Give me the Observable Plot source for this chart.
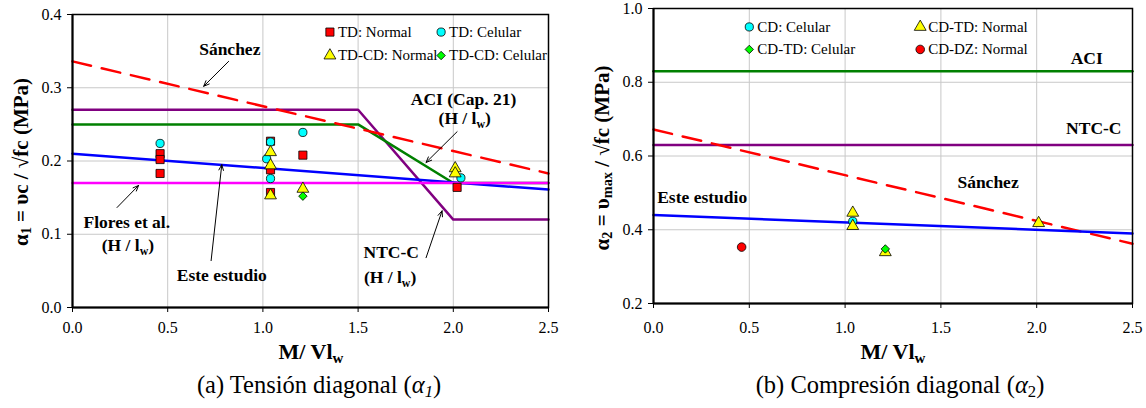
<!DOCTYPE html>
<html>
<head>
<meta charset="utf-8">
<script src="https://cdn.jsdelivr.net/npm/d3@7"></script>
<script src="https://cdn.jsdelivr.net/npm/@observablehq/plot@0.6"></script>
<style>
  body { margin: 0; background: #fff; }
  #wrap { position: relative; width: 1146px; height: 408px; font-family: 'Liberation Serif', 'DejaVu Serif', serif; color: #000; overflow: hidden; }
  #wrap svg, #wrap svg text { font-family: 'Liberation Serif', 'DejaVu Serif', serif !important; }
  .panel { position: absolute; top: 0; }
  .lbl { position: absolute; white-space: nowrap; transform: translate(-50%, -50%); line-height: 1; }
  .rot { transform: translate(-50%, -50%) rotate(-90deg); }
  .axt { font-weight: bold; font-size: 22px; }
  .yt { font-weight: bold; font-size: 21px; }
  .cap { font-size: 24.5px; }
  sub { font-size: 0.68em; vertical-align: -0.28em; line-height: 0; }
</style>
</head>
<body>
<div id="wrap">
  <div id="pa" class="panel" style="left:0px"></div>
  <div id="pb" class="panel" style="left:573px"></div>
  <div class="lbl rot yt" style="left:21px;top:162px">α<sub>1</sub> = υc / √fc (MPa)</div>
  <div class="lbl rot yt" style="left:602px;top:158px">α<sub>2</sub> = υ<sub>max</sub> / √fc (MPa)</div>
  <div class="lbl axt" style="left:311px;top:352px">M/ Vl<sub>w</sub></div>
  <div class="lbl axt" style="left:893px;top:352px">M/ Vl<sub>w</sub></div>
  <div class="lbl cap" style="left:319px;top:385px">(a) Tensión diagonal (<i>α<sub>1</sub></i>)</div>
  <div class="lbl cap" style="left:900px;top:385px">(b) Compresión diagonal (<i>α</i><sub>2</sub>)</div>
</div>
<script>
// ---------- shared ticks ----------
const xTicks = [0, 0.5, 1.0, 1.5, 2.0, 2.5];
const yTicksA = [0, 0.1, 0.2, 0.3, 0.4];
const yTicksB = [0.2, 0.4, 0.6, 0.8, 1.0];

// ---------- panel (a): design curves ----------
const sanchezA_x = [0, 2.5];           const sanchezA_y = [0.336, 0.183];
const ntcA_x = [0, 1.5, 2.0, 2.5];     const ntcA_y = [0.27, 0.27, 0.12, 0.12];
const aciA_x = [0, 1.5, 2.0, 2.5];     const aciA_y = [0.25, 0.25, 0.17, 0.17];
const esteA_x = [0, 2.5];              const esteA_y = [0.21, 0.161];
const floresA_x = [0, 2.5];            const floresA_y = [0.17, 0.17];

// ---------- panel (a): test data ----------
const tdNormalX   = [0.46, 0.46, 0.46, 1.04, 1.04, 1.04, 1.21, 2.02];
const tdNormalY   = [0.210, 0.202, 0.183, 0.227, 0.188, 0.157, 0.208, 0.164];
const tdCelularX  = [0.46, 1.02, 1.04, 1.04, 1.21, 2.04];
const tdCelularY  = [0.224, 0.203, 0.226, 0.176, 0.239, 0.177];
const tdcdNormalX = [1.04, 1.04, 1.04, 1.21, 2.01, 2.01];
const tdcdNormalY = [0.212, 0.194, 0.153, 0.162, 0.190, 0.183];
const tdcdCelularX = [1.21];
const tdcdCelularY = [0.152];

// ---------- panel (b): design curves ----------
const aciB_x = [0, 2.5];     const aciB_y = [0.83, 0.83];
const ntcB_x = [0, 2.5];     const ntcB_y = [0.63, 0.63];
const sanchezB_x = [0, 2.5]; const sanchezB_y = [0.672, 0.362];
const esteB_x = [0, 2.5];    const esteB_y = [0.44, 0.39];

// ---------- panel (b): test data ----------
const cdCelularX   = [1.04];
const cdCelularY   = [0.423];
const cdtdNormalX  = [1.04, 1.04, 1.21, 2.01];
const cdtdNormalY  = [0.446, 0.410, 0.339, 0.418];
const cdtdCelularX = [1.21];
const cdtdCelularY = [0.348];
const cddzNormalX  = [0.46];
const cddzNormalY  = [0.353];

// ---------- labels ----------
const legendNamesA = ["TD: Normal", "TD: Celular", "TD-CD: Normal", "TD-CD: Celular"];
const legendNamesB = ["CD: Celular", "CD-TD: Normal", "CD-TD: Celular", "CD-DZ: Normal"];

const zip = (xs, ys) => xs.map((x, i) => ({x, y: ys[i]}));
const fmt = d3.format(".1f");
const style = {fontFamily: "'Liberation Serif', 'DejaVu Serif', serif", fontSize: "16px", background: "white", overflow: "visible", color: "black"};

function seriesMarks(list) {
  return list.map(s => Plot.dot(zip(s.xs, s.ys), {x: "x", y: "y", symbol: s.symbol, fill: s.fill, stroke: "black", strokeWidth: 0.8, r: s.r}));
}
function legendMarks(list, pos) {
  const out = [];
  list.forEach((s, i) => {
    const p = [pos[i]];
    out.push(Plot.dot(p, {x: "x", y: "y", symbol: s.symbol, fill: s.fill, stroke: "black", strokeWidth: 0.8, r: s.r}));
    out.push(Plot.text(p, {x: "x", y: "y", text: () => s.name, textAnchor: "start", dx: 8, fontSize: 15, fill: "black", letterSpacing: -0.7}));
  });
  return out;
}
function lineMark(xs, ys, stroke, extra = {}) {
  return Plot.line(zip(xs, ys), {x: "x", y: "y", stroke, strokeWidth: 2.5, ...extra});
}
function subscripts(svg) {
  const ns = "http://www.w3.org/2000/svg";
  svg.querySelectorAll("text, tspan").forEach(el => {
    if (el.children.length) return;
    const s = el.textContent;
    const m = s.match(/^(.*)_(\w)(.*)$/);
    if (!m) return;
    el.textContent = "";
    el.appendChild(document.createTextNode(m[1]));
    const sub = document.createElementNS(ns, "tspan");
    sub.setAttribute("dy", "4"); sub.setAttribute("font-size", "0.68em"); sub.textContent = m[2];
    el.appendChild(sub);
    const rest = document.createElementNS(ns, "tspan");
    rest.setAttribute("dy", "-4"); rest.textContent = m[3];
    el.appendChild(rest);
  });
}

// ---------- panel (a) ----------
const seriesA = [
  {name: legendNamesA[0], xs: tdNormalX, ys: tdNormalY, symbol: "square", fill: "#ff0000", r: 4.6},
  {name: legendNamesA[1], xs: tdCelularX, ys: tdCelularY, symbol: "circle", fill: "#00ffff", r: 4.1},
  {name: legendNamesA[2], xs: tdcdNormalX, ys: tdcdNormalY, symbol: "triangle", fill: "#ffff00", r: 4.4},
  {name: legendNamesA[3], xs: tdcdCelularX, ys: tdcdCelularY, symbol: "diamond2", fill: "#00ff00", r: 3.8}
];
const legendPosA = [{x: 1.352, y: 0.376}, {x: 1.936, y: 0.376}, {x: 1.352, y: 0.344}, {x: 1.936, y: 0.344}];
const labelsA = [
  {x: 0.826, y: 0.352, t: "Sánchez"},
  {x: 2.054, y: 0.284, t: "ACI (Cap. 21)"},
  {x: 2.060, y: 0.2576, t: "(H / l_w)"},
  {x: 0.285, y: 0.1165, t: "Flores et al."},
  {x: 0.291, y: 0.0846, t: "(H / l_w)"},
  {x: 0.784, y: 0.0437, t: "Este estudio"},
  {x: 1.674, y: 0.0755, t: "NTC-C"},
  {x: 1.668, y: 0.0414, t: "(H / l_w)"}
];
const arrowsA = [
  {x1: 0.82, y1: 0.336, x2: 0.689, y2: 0.302},
  {x1: 2.02, y1: 0.240, x2: 1.857, y2: 0.198},
  {x1: 0.234, y1: 0.1365, x2: 0.347, y2: 0.1666},
  {x1: 0.728, y1: 0.064, x2: 0.784, y2: 0.195},
  {x1: 1.857, y1: 0.068, x2: 1.941, y2: 0.132}
];

const plotA = Plot.plot({
  width: 573, height: 365,
  marginLeft: 72, marginRight: 25, marginTop: 14, marginBottom: 58,
  x: {domain: [0, 2.5]},
  y: {domain: [0, 0.4]},
  style,
  marks: [
    Plot.gridX(xTicks, {stroke: "#c8c8c8", strokeOpacity: 1, strokeWidth: 1}),
    Plot.gridY(yTicksA, {stroke: "#c8c8c8", strokeOpacity: 1, strokeWidth: 1}),
    Plot.axisX(xTicks, {tickFormat: fmt, tickSize: 5, tickPadding: 9, label: null, fontSize: 16, stroke: "black"}),
    Plot.axisY(yTicksA, {tickFormat: fmt, tickSize: 5, tickPadding: 6, label: null, fontSize: 16, stroke: "black"}),
    lineMark(ntcA_x, ntcA_y, "#800080"),
    lineMark(aciA_x, aciA_y, "#008000"),
    lineMark(sanchezA_x, sanchezA_y, "#ff0000", {strokeDasharray: "19,11"}),
    lineMark(esteA_x, esteA_y, "#0000ff"),
    lineMark(floresA_x, floresA_y, "#ff00ff"),
    ...seriesMarks(seriesA),
    ...legendMarks(seriesA, legendPosA),
    Plot.text(labelsA, {x: "x", y: "y", text: "t", fontWeight: "bold", fontSize: 17.5, fill: "black"}),
    Plot.arrow(arrowsA, {x1: "x1", y1: "y1", x2: "x2", y2: "y2", stroke: "black", strokeWidth: 1, headLength: 9, headAngle: 45}),
    Plot.frame({stroke: "black", strokeWidth: 1.5}),
    Plot.ruleX([0], {stroke: "black", strokeWidth: 2}),
    Plot.ruleY([0], {stroke: "black", strokeWidth: 2})
  ]
});
subscripts(plotA);
document.getElementById("pa").appendChild(plotA);

// ---------- panel (b) ----------
const seriesB = [
  {name: legendNamesB[0], xs: cdCelularX, ys: cdCelularY, symbol: "circle", fill: "#00ffff", r: 4.1},
  {name: legendNamesB[1], xs: cdtdNormalX, ys: cdtdNormalY, symbol: "triangle", fill: "#ffff00", r: 4.4},
  {name: legendNamesB[2], xs: cdtdCelularX, ys: cdtdCelularY, symbol: "diamond2", fill: "#00ff00", r: 3.8},
  {name: legendNamesB[3], xs: cddzNormalX, ys: cddzNormalY, symbol: "circle", fill: "#ff0000", r: 4.3}
];
const legendPosB = [{x: 0.50, y: 0.950}, {x: 1.392, y: 0.950}, {x: 0.50, y: 0.889}, {x: 1.392, y: 0.889}];
const labelsB = [
  {x: 2.261, y: 0.865, t: "ACI"},
  {x: 2.298, y: 0.6755, t: "NTC-C"},
  {x: 1.746, y: 0.529, t: "Sánchez"},
  {x: 0.254, y: 0.488, t: "Este estudio"}
];

const plotB = Plot.plot({
  width: 573, height: 365,
  marginLeft: 80, marginRight: 14, marginTop: 8, marginBottom: 62,
  x: {domain: [0, 2.5]},
  y: {domain: [0.2, 1.0]},
  style,
  marks: [
    Plot.gridX(xTicks, {stroke: "#c8c8c8", strokeOpacity: 1, strokeWidth: 1}),
    Plot.gridY(yTicksB, {stroke: "#c8c8c8", strokeOpacity: 1, strokeWidth: 1}),
    Plot.axisX(xTicks, {tickFormat: fmt, tickSize: 5, tickPadding: 13, label: null, fontSize: 16, stroke: "black"}),
    Plot.axisY(yTicksB, {tickFormat: fmt, tickSize: 5, tickPadding: 6, label: null, fontSize: 16, stroke: "black"}),
    lineMark(aciB_x, aciB_y, "#008000"),
    lineMark(ntcB_x, ntcB_y, "#800080"),
    lineMark(sanchezB_x, sanchezB_y, "#ff0000", {strokeDasharray: "19,11"}),
    lineMark(esteB_x, esteB_y, "#0000ff"),
    ...seriesMarks(seriesB),
    ...legendMarks(seriesB, legendPosB),
    Plot.text(labelsB, {x: "x", y: "y", text: "t", fontWeight: "bold", fontSize: 17.5, fill: "black"}),
    Plot.frame({stroke: "black", strokeWidth: 1.5}),
    Plot.ruleX([0], {stroke: "black", strokeWidth: 2}),
    Plot.ruleY([0.2], {stroke: "black", strokeWidth: 2})
  ]
});
subscripts(plotB);
document.getElementById("pb").appendChild(plotB);
</script>
</body>
</html>
